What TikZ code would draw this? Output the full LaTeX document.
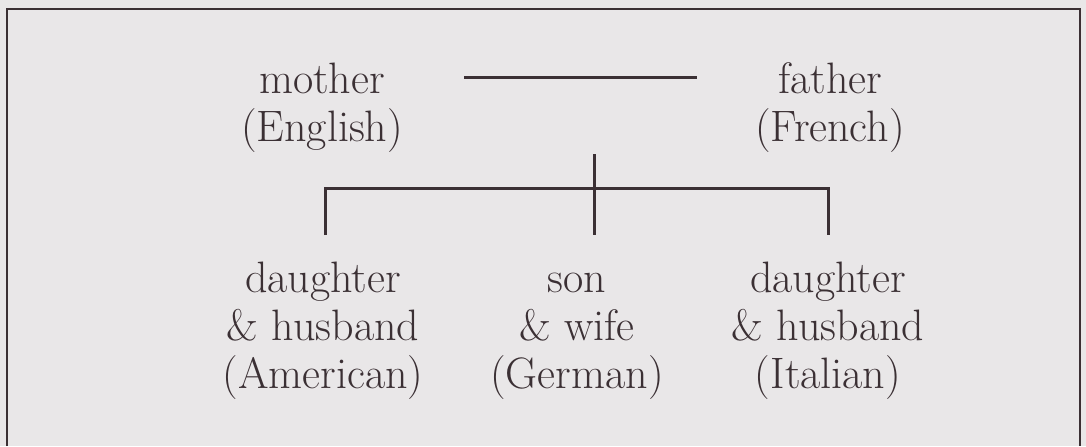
\documentclass[tikz,border=0pt]{standalone}
\definecolor{ink}{HTML}{3B3034}
\definecolor{paper}{HTML}{E9E7E8}
\begin{document}
\begin{tikzpicture}[x=0.5pt,y=-0.5pt,
  person/.style={align=center,font=\fontsize{22}{24}\selectfont,text=ink,inner sep=0pt,anchor=base},
  kin/.style={draw=ink,line width=1.5pt}]
  \fill[paper] (0,0) rectangle (1086,446);
  \useasboundingbox (0,0) rectangle (1086,446);
  \draw[ink,line width=1.2pt] (7,446) -- (7,9) -- (1080,9) -- (1080,446);
  % parents
  \node[person] (mother) at (322,141) {mother\\(English)};
  \node[person] (father) at (830,141) {father\\(French)};
  \coordinate (wedL) at (464,77); \coordinate (wedR) at (697,77);
  \draw[kin] (wedL) -- (wedR);
  % children
  \node[person] (kidA) at (323,388) {daughter\\\& husband\\(American)};
  \node[person] (kidB) at (577,388) {son\\\& wife\\(German)};
  \node[person] (kidC) at (828,388) {daughter\\\& husband\\(Italian)};
  \coordinate (stem) at (594,154); \coordinate (hub) at (594,188);
  \coordinate (barL) at (325,188); \coordinate (barR) at (828,188);
  \coordinate (dropL) at (325,235); \coordinate (dropM) at (594,235);
  \coordinate (dropR) at (828,235);
  \draw[kin] (stem) -- (dropM);
  \draw[kin] (dropL) -- (barL) -- (barR) -- (dropR);
\end{tikzpicture}
\end{document}
